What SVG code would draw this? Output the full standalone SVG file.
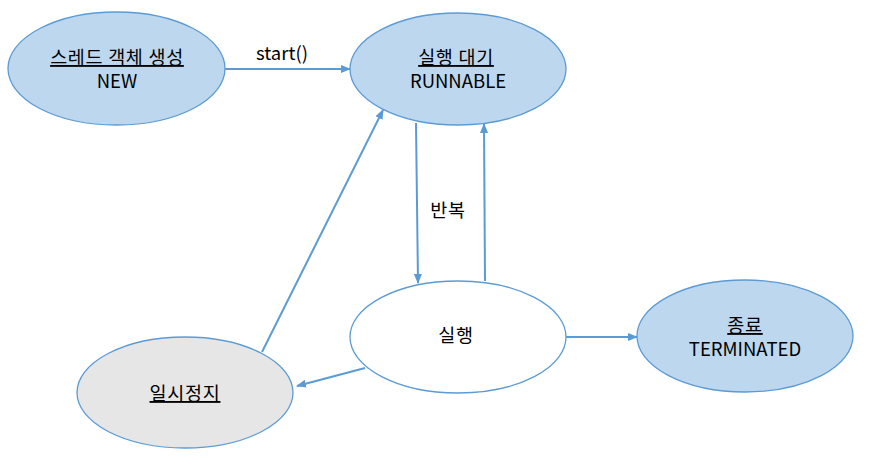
<svg xmlns="http://www.w3.org/2000/svg" width="876" height="458" viewBox="0 0 876 458">
<style>
.node{fill:#bdd7ee;stroke:#5b9bd5;stroke-width:1.3}
.white{fill:#ffffff}
.grey{fill:#e6e6e6}
text{font-family:"Noto Sans CJK KR","Noto Sans",sans-serif;font-size:18.5px;fill:#000;text-anchor:middle}
.u{text-decoration:underline;letter-spacing:0.7px}
.k{letter-spacing:0.7px}
.edge{stroke:#5b9bd5;stroke-width:2;fill:none;marker-end:url(#arr)}
</style>
<defs>
<marker id="arr" markerWidth="10" markerHeight="8" refX="9" refY="4" orient="auto" markerUnits="userSpaceOnUse">
<path d="M0,0 L10,4 L0,8 Z" fill="#5b9bd5"/>
</marker>
</defs>
<rect width="876" height="458" fill="#ffffff"/>
<g id="connectors">
<line class="edge" x1="225" y1="69" x2="350" y2="69"/>
<line class="edge" x1="416" y1="123" x2="418" y2="283"/>
<line class="edge" x1="485" y1="281" x2="484" y2="124"/>
<line class="edge" x1="262" y1="352" x2="383" y2="110"/>
<line class="edge" x1="365" y1="368" x2="297" y2="386"/>
<line class="edge" x1="566" y1="337" x2="637" y2="337"/>
<text x="282" y="60">start()</text>
<text class="k" x="448" y="217">반복</text>
</g>
<g id="new">
<ellipse class="node" cx="116.5" cy="68.5" rx="108.5" ry="56.5"/>
<text class="u" x="117" y="64">스레드 객체 생성</text>
<text x="117" y="88">NEW</text>
</g>
<g id="runnable">
<ellipse class="node" cx="458" cy="69" rx="108" ry="56"/>
<text class="u" x="456" y="64">실행 대기</text>
<text x="458" y="88">RUNNABLE</text>
</g>
<g id="running">
<ellipse class="node white" cx="458" cy="337" rx="108" ry="56"/>
<text class="k" x="456" y="342">실행</text>
</g>
<g id="paused">
<ellipse class="node grey" cx="185" cy="392.5" rx="108" ry="55.5"/>
<text class="u" x="185" y="400">일시정지</text>
</g>
<g id="terminated">
<ellipse class="node" cx="745" cy="336" rx="108" ry="56"/>
<text class="u" x="745" y="332">종료</text>
<text x="745" y="356">TERMINATED</text>
</g>
</svg>
